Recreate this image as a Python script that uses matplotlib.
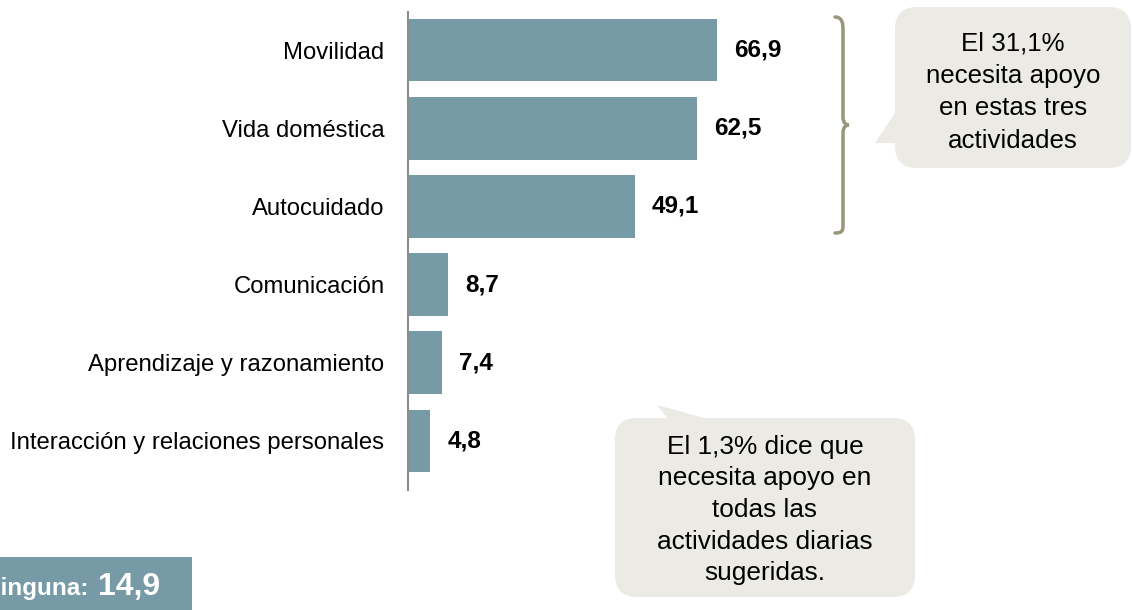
import numpy as np
import matplotlib
matplotlib.use("Agg")
import matplotlib.pyplot as plt
from matplotlib.patches import FancyBboxPatch, Polygon, PathPatch
from matplotlib.path import Path

plt.rcParams['font.family'] = ['Liberation Sans', 'DejaVu Sans']

categorias = ['Movilidad', 'Vida doméstica', 'Autocuidado', 'Comunicación',
              'Aprendizaje y razonamiento', 'Interacción y relaciones personales']
valores = [66.9, 62.5, 49.1, 8.7, 7.4, 4.8]
etiquetas = ['66,9', '62,5', '49,1', '8,7', '7,4', '4,8']
ninguna = '14,9'
nota1 = 'El 31,1%\nnecesita apoyo\nen estas tres\nactividades'
nota2 = 'El 1,3% dice que\nnecesita apoyo en\ntodas las\nactividades diarias\nsugeridas.'

W, H = 1132, 610
bar_col = '#769aa6'
box_col = '#ebeae5'
brace_col = '#98967c'
px = 4.62  # pixels per unit

fig = plt.figure(figsize=(W / 100, H / 100), dpi=100)

# overlay in pixel coordinates for the annotations
ov = fig.add_axes([0, 0, 1, 1])
ov.set_xlim(0, W)
ov.set_ylim(H, 0)
ov.axis('off')

ax = fig.add_axes([408 / W, 1 - 490 / H, (W - 408) / W, 478 / H])
ax.patch.set_visible(False)
y = np.arange(len(valores))
ax.barh(y, valores, height=0.8, color=bar_col)
ax.set_xlim(0, (W - 408) / px)
ax.set_ylim(5 + 49 / 78, -38 / 78)
for yi, v, t in zip(y, valores, etiquetas):
    ax.text(v + 17 / px, yi, t, va='center', ha='left', fontsize=17.5, fontweight='bold')
ax.set_yticks(y)
ax.set_yticklabels(categorias, fontsize=17.2)
ax.tick_params(axis='y', length=0, pad=17)
ax.set_xticks([])
for s in ['top', 'right', 'bottom']:
    ax.spines[s].set_visible(False)
ax.spines['left'].set_color('#8c8c8c')
ax.spines['left'].set_linewidth(1.5)

# brace
verts = [(835, 17), (843, 17), (843, 25), (843, 30),
         (843, 117),
         (843, 123), (846, 125), (849, 125),
         (846, 125), (843, 127), (843, 133),
         (843, 225),
         (843, 230), (843, 233), (835, 233)]
codes = [Path.MOVETO, Path.CURVE4, Path.CURVE4, Path.CURVE4,
         Path.LINETO,
         Path.CURVE4, Path.CURVE4, Path.CURVE4,
         Path.CURVE4, Path.CURVE4, Path.CURVE4,
         Path.LINETO,
         Path.CURVE4, Path.CURVE4, Path.CURVE4]
ov.add_patch(PathPatch(Path(verts, codes), fill=False, edgecolor=brace_col, lw=2.5,
                       capstyle='round'))

# callout 1
ov.add_patch(FancyBboxPatch((895, 7), 236, 161, boxstyle='round,pad=0,rounding_size=22',
                            facecolor=box_col, edgecolor='none'))
ov.add_patch(Polygon([(875, 143), (905, 98), (905, 143)], closed=True,
                     facecolor=box_col, edgecolor='none'))
ov.text(1013, 92, nota1, ha='center', va='center', fontsize=18.6, linespacing=1.45)

# callout 2
ov.add_patch(FancyBboxPatch((615, 418), 300, 179, boxstyle='round,pad=0,rounding_size=22',
                            facecolor=box_col, edgecolor='none'))
ov.add_patch(Polygon([(657, 405), (740, 428), (675, 428)], closed=True,
                     facecolor=box_col, edgecolor='none'))
ov.text(765, 510, nota2, ha='center', va='center', fontsize=18.9, linespacing=1.4)

# ninguna box
ov.add_patch(plt.Rectangle((0, 557), 192, 60, facecolor=bar_col, edgecolor='none'))
ov.text(160, 595, ninguna, ha='right', va='baseline', fontsize=23,
        fontweight='bold', color='white')
ov.text(89, 595, 'Ninguna:', ha='right', va='baseline', fontsize=17.5,
        fontweight='bold', color='white')

fig.savefig('out.png', dpi=100)
